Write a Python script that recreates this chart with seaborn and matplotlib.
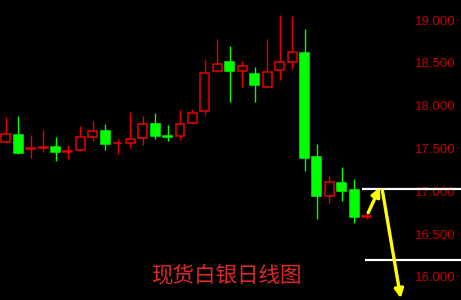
import numpy as np
import pandas as pd
import matplotlib
matplotlib.use("Agg")
import matplotlib.pyplot as plt
import seaborn as sns

# ---- data ----
opens = [17.571, 17.653, 17.495, 17.510, 17.513, 17.463, 17.481, 17.637, 17.703, 17.560,
         17.560, 17.625, 17.782, 17.640, 17.648, 17.800, 17.933, 18.408, 18.513, 18.408,
         18.373, 18.221, 18.419, 18.509, 18.618, 17.396, 16.944, 17.092, 17.014, 16.700]
closes = [17.665, 17.450, 17.500, 17.515, 17.454, 17.468, 17.637, 17.703, 17.555, 17.565,
          17.613, 17.782, 17.648, 17.635, 17.789, 17.917, 18.384, 18.486, 18.404, 18.459,
          18.237, 18.396, 18.513, 18.626, 17.388, 16.944, 17.104, 17.006, 16.695, 16.705]
highs = [17.863, 17.875, 17.653, 17.718, 17.630, 17.540, 17.762, 17.820, 17.785, 17.606,
         17.925, 17.875, 17.914, 17.770, 17.949, 17.964, 18.541, 18.782, 18.696, 18.525,
         18.447, 18.782, 19.055, 19.043, 18.898, 17.551, 17.178, 17.279, 17.139, 16.765]
lows = [17.560, 17.440, 17.391, 17.454, 17.349, 17.376, 17.475, 17.590, 17.478, 17.438,
        17.508, 17.543, 17.606, 17.590, 17.595, 17.785, 17.887, 18.393, 18.046, 18.221,
        18.046, 18.214, 18.303, 18.428, 17.236, 16.672, 16.859, 16.889, 16.625, 16.672]

yticks = [16.0, 16.5, 17.0, 17.5, 18.0, 18.5, 19.0]
ytick_labels = ["16.000", "16.500", "17.000", "17.500", "18.000", "18.500", "19.000"]

levels = [17.029, 16.196]          # horizontal support / target lines
level_starts = [28.6, 28.86]
arrow1 = [(29.12, 16.749), (30.06, 17.046)]
arrow2 = [(30.25, 17.014), (31.73, 15.749)]
title = "现货白银日线图"

# ---- style ----
sns.set_style("dark", {"axes.facecolor": "black", "figure.facecolor": "black"})
plt.rcParams["font.family"] = ["Liberation Sans", "DejaVu Sans"]

RED = "#E80000"
GREEN = "#00FF00"

df = pd.DataFrame({"o": opens, "c": closes, "h": highs, "l": lows})
df["x"] = np.arange(len(df))
df["up"] = df["c"] >= df["o"]

fig = plt.figure(figsize=(4.61, 3.0), dpi=100)
ax = fig.add_axes([0, 0, 1, 1])
ax.set_facecolor("black")

colors = np.where(df["up"], RED, GREEN)
# wicks
ax.vlines(df["x"], df["l"], df["h"], colors=colors, linewidth=1.0, zorder=1)
# bodies
body_bottom = np.minimum(df["o"], df["c"])
body_h = np.maximum(np.abs(df["c"] - df["o"]), 0.004)
faces = np.where(df["up"], "black", GREEN)
ax.bar(df["x"], body_h, bottom=body_bottom, width=0.72,
       color=faces, edgecolor=colors, linewidth=1.1, zorder=2)

# horizontal lines
for lv, xs in zip(levels, level_starts):
    ax.hlines(lv, xs, 40, color="white", linewidth=1.6, zorder=3)

# arrows
for (p0, p1) in (arrow1, arrow2):
    ax.annotate("", xy=p1, xytext=p0,
                arrowprops=dict(arrowstyle="-|>", color="#FFFF00", lw=2.4,
                                mutation_scale=13, shrinkA=0, shrinkB=0),
                zorder=4)

ax.set_xlim(-0.458, 36.57)
ax.set_ylim(15.729, 19.234)
ax.set_xticks([])
ax.set_yticks(yticks)
ax.set_yticklabels(ytick_labels)
ax.tick_params(axis="y", left=False, labelleft=False, right=True, labelright=True,
               length=0, pad=-33, labelsize=9.5, labelcolor="#C00000")
for s in ax.spines.values():
    s.set_visible(False)
ax.grid(False)

fig.text(226.5 / 461, 1 - 275 / 300, title, ha="center", va="center",
         fontsize=15.5, color="#E02828",
         family=["Noto Sans CJK SC", "DejaVu Sans"])

fig.savefig("out.png", dpi=100, facecolor="black")
